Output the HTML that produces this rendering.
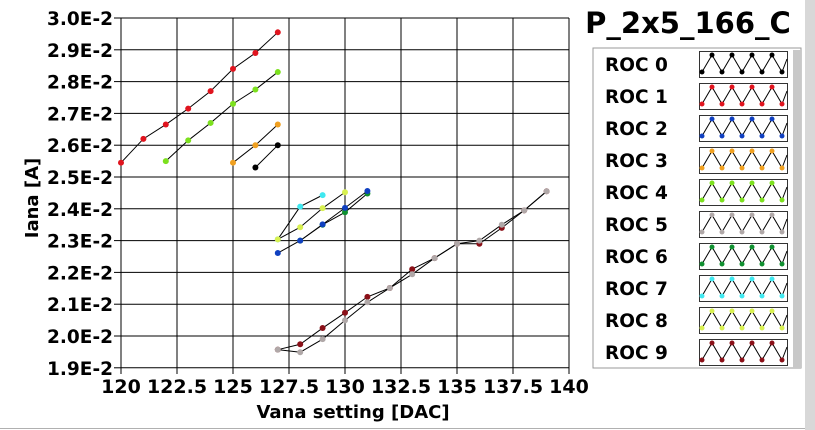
<!DOCTYPE html>
<html><head><meta charset="utf-8"><style>
body{margin:0;background:#fff;width:815px;height:430px;overflow:hidden;font-family:"DejaVu Sans","Liberation Sans",sans-serif}
</style></head><body>
<svg id="s" width="815" height="430" xmlns="http://www.w3.org/2000/svg" style="position:absolute;left:0;top:0">
<rect x="805" y="0" width="10" height="430" fill="#d8d8d8"/>
<line x1="0" y1="428.5" x2="805" y2="428.5" stroke="#b0b0b0"/>
<text x="688" y="33" font-size="29" font-weight="bold" text-anchor="middle" fill="#000">P_2x5_166_C</text>
<rect x="593" y="48" width="208" height="320" fill="#fff" stroke="#999"/>
<rect x="793" y="50" width="8" height="318" fill="#c8c8c8"/>
<g id="g"></g>
<text transform="translate(38,198) rotate(-90)" font-size="18" font-weight="bold" text-anchor="middle">Iana [A]</text>
<text x="353" y="418" font-size="18" font-weight="bold" text-anchor="middle">Vana setting [DAC]</text>
</svg>
<script>
var g=document.getElementById('g'),h='';
function X(v){return 121+(v-120)*22.4}
function Y(v){return 18+(3.0-v)*318}
for(var i=0;i<=8;i++){var x=X(120+i*2.5);h+='<line x1="'+x+'" y1="18" x2="'+x+'" y2="368" stroke="#000"/><line x1="'+x+'" y1="368" x2="'+x+'" y2="374" stroke="#000"/>';
h+='<text x="'+x+'" y="393" font-size="19" font-weight="bold" text-anchor="middle">'+(120+i*2.5)+'</text>';}
for(var j=0;j<=11;j++){var v=1.9+j*0.1,y=Y(v);h+='<line x1="121" y1="'+y+'" x2="569" y2="'+y+'" stroke="#000"/><line x1="114" y1="'+y+'" x2="121" y2="'+y+'" stroke="#000"/>';
h+='<text x="113" y="'+(y+7)+'" font-size="18.5" font-weight="bold" text-anchor="end">'+v.toFixed(1)+'E-2</text>';}
var S=[
['#e0141e',[[120,2.545],[121,2.62],[122,2.665],[123,2.715],[124,2.77],[125,2.84],[126,2.89],[127,2.955]]],
['#7ce01e',[[122,2.55],[123,2.615],[124,2.67],[125,2.73],[126,2.775],[127,2.83]]],
['#f0a020',[[125,2.545],[126,2.6],[127,2.665]]],
['#000',[[126,2.53],[127,2.6]]],
['#40e8f0',[[127,2.304],[128,2.407],[129,2.443]]],
['#d8f050',[[127,2.304],[128,2.342],[129,2.402],[130,2.452]]],
['#109030',[[128,2.30],[129,2.35],[130,2.389],[131,2.448]]],
['#1040c0',[[127,2.261],[128,2.30],[129,2.351],[130,2.403],[131,2.456]]],
['#8a1018',[[127,1.957],[128,1.974],[129,2.025],[130,2.073],[131,2.123],[132,2.151],[133,2.21],[134,2.245],[135,2.29],[136,2.29],[137,2.34],[138,2.395],[139,2.455]]],
['#b0a8a8',[[127,1.957],[128,1.949],[129,1.99],[130,2.049],[131,2.106],[132,2.151],[133,2.194],[134,2.245],[135,2.29],[136,2.30],[137,2.35],[138,2.395],[139,2.455]]]];
S.forEach(function(s){var p=s[1].map(function(q){return X(q[0])+','+Y(q[1])}).join(' ');
h+='<polyline points="'+p+'" fill="none" stroke="#000" stroke-width="1"/>';
s[1].forEach(function(q){h+='<circle cx="'+X(q[0])+'" cy="'+Y(q[1])+'" r="3" fill="'+s[0]+'"/>'});});
var L=['#000','#e0141e','#1040c0','#f0a020','#7ce01e','#b0a8a8','#109030','#40e8f0','#d8f050','#8a1018'];
for(var k=0;k<10;k++){var y0=51+k*32;
h+='<text x="605" y="'+(y0+20)+'" font-size="18.5" font-weight="bold">ROC '+k+'</text>';
h+='<rect x="699.5" y="'+(y0+0.5)+'" width="88" height="26" fill="#fff" stroke="#333"/>';
var pts=[],dots=[];for(var m=0;m<9;m++){var px=702+m*10,py=(m%2==0)?y0+21:y0+4;pts.push(px+','+py);dots.push([px,py]);}
pts.push('787,'+(y0+8));
h+='<polyline points="'+pts.join(' ')+'" fill="none" stroke="#000"/>';
dots.forEach(function(d){h+='<circle cx="'+d[0]+'" cy="'+d[1]+'" r="2.5" fill="'+L[k]+'"/>'});}
g.innerHTML=h;
</script>
</body></html>
